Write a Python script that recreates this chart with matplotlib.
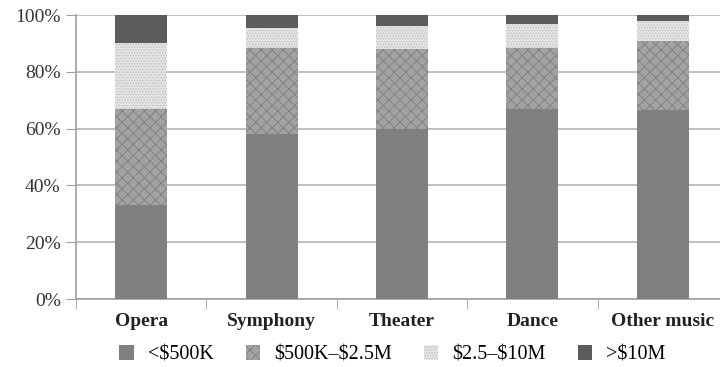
import numpy as np
import matplotlib
matplotlib.use("Agg")
import matplotlib.pyplot as plt
from matplotlib.patches import Patch

categories = ["Opera", "Symphony", "Theater", "Dance", "Other music"]
series_names = ["<\\$500K", "\\$500K\u2013\\$2.5M", "\\$2.5\u2013\\$10M", ">\\$10M"]
under_500k = [33, 58, 60, 67, 66.5]
mid_500k_25m = [34, 30.5, 28, 21.5, 24.5]
mid_25m_10m = [23, 7, 8, 8.5, 7]
over_10m = [10, 4.5, 4, 3, 2]

plt.rcParams['font.family'] = ['Liberation Serif', 'DejaVu Serif']
plt.rcParams['hatch.linewidth'] = 0.6

fig = plt.figure(figsize=(7.2, 3.67), dpi=100)
ax = fig.add_axes([76 / 720, 1 - 299 / 367, 652 / 720, 284 / 367])

styles = [
    dict(color="#808083", hatch=None, edgecolor="#808083"),
    dict(color="#a2a2a2", hatch="xxx", edgecolor="#7e7e7e"),
    dict(color="#e4e4e4", hatch="......", edgecolor="#bcbcbc"),
    dict(color="#5c5c5e", hatch=None, edgecolor="#5c5c5e"),
]

x = np.arange(len(categories))
bottom = np.zeros(len(categories))
handles = []
for name, vals, st in zip(series_names, [under_500k, mid_500k_25m, mid_25m_10m, over_10m], styles):
    ax.bar(x, vals, width=0.4, bottom=bottom, color=st["color"], hatch=st["hatch"],
           edgecolor=st["edgecolor"], linewidth=0, zorder=3)
    handles.append(Patch(facecolor=st["color"], hatch=st["hatch"], edgecolor=st["edgecolor"],
                         linewidth=0, label=name))
    bottom += np.array(vals)

ax.set_xlim(-0.5, len(categories) - 0.5)
ax.set_ylim(0, 100)
ax.set_yticks(range(0, 101, 20))
ax.set_yticklabels([f"{v}%" for v in range(0, 101, 20)], fontsize=14, color="#333333")
ax.yaxis.grid(True, color="#b4b4b4", linewidth=1.2, zorder=0)
ax.tick_params(axis="y", length=7, color="#a0a0a0", pad=4)

ax.set_xticks(x)
ax.set_xticklabels(categories, fontsize=14, fontweight="bold", color="#222222")
ax.set_xticks(np.arange(-0.5, len(categories)), minor=True)
ax.tick_params(axis="x", which="major", length=0, pad=10)
ax.tick_params(axis="x", which="minor", length=7, color="#a0a0a0", direction="out")

for s in ["top", "right"]:
    ax.spines[s].set_visible(False)
ax.spines["left"].set_color("#a0a0a0")
ax.spines["bottom"].set_color("#a0a0a0")
ax.spines["left"].set_linewidth(1.2)
ax.spines["bottom"].set_linewidth(1.2)

fig.legend(handles=handles, loc="center", bbox_to_anchor=(0.545, 1 - 355 / 367), ncol=4,
           frameon=False, fontsize=14.5, handlelength=0.7, handleheight=0.7,
           columnspacing=1.6, handletextpad=0.7)

fig.savefig("out.png", dpi=100)
